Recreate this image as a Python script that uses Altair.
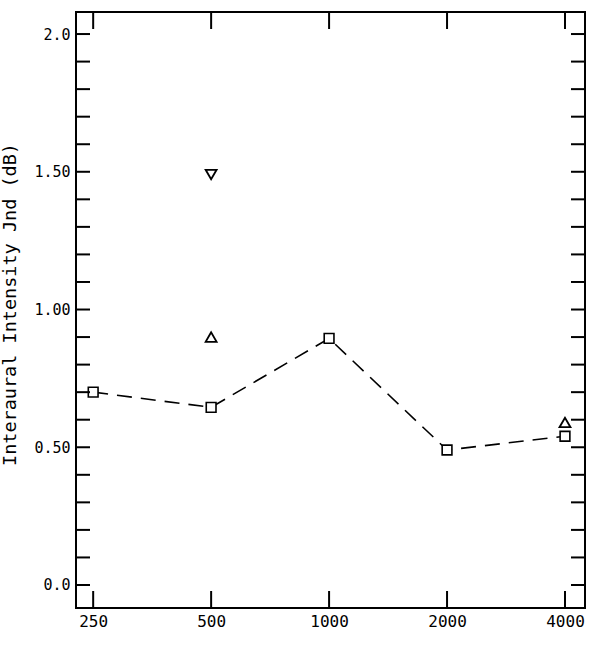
import altair as alt
import pandas as pd

# Data
freqs = [250, 500, 1000, 2000, 4000]
jnd_square = [0.70, 0.645, 0.895, 0.49, 0.54]
tri_up_freq = [500, 4000]
tri_up_val = [0.90, 0.59]
tri_down_freq = [500]
tri_down_val = [1.49]

y_label_values = [0.0, 0.5, 1.0, 1.5, 2.0]
y_tick_values = [0.0, 0.1, 0.2, 0.3, 0.4, 0.5, 0.6, 0.7, 0.8, 0.9, 1.0,
                 1.1, 1.2, 1.3, 1.4, 1.5, 1.6, 1.7, 1.8, 1.9, 2.0]
x_tick_values = [250, 500, 1000, 2000, 4000]

W, H = 509, 596
FONT = "DejaVu Sans Mono"

sq = pd.DataFrame({"freq": freqs, "val": jnd_square})
tri = pd.DataFrame({
    "freq": tri_up_freq + tri_down_freq,
    "val": tri_up_val + tri_down_val,
    "kind": ["up"] * len(tri_up_freq) + ["down"] * len(tri_down_freq),
})
yt = pd.DataFrame({"val": y_tick_values})
xt = pd.DataFrame({"freq": x_tick_values})

xscale = alt.Scale(type="log", base=2, domain=[226, 4499], nice=False)
yscale = alt.Scale(domain=[-0.0835, 2.08], nice=False, zero=False)

xaxis = alt.Axis(values=x_tick_values, ticks=False, tickSize=0, tickColor="white",
                 domain=False, grid=False, labelFont=FONT, labelFontSize=16,
                 labelColor="black", labelPadding=5, title=None, format="d")
yaxis = alt.Axis(values=y_label_values, ticks=False, tickSize=0, tickColor="white",
                 domain=False, grid=False, labelFont=FONT, labelFontSize=15,
                 labelColor="black", labelPadding=6,
                 labelExpr="datum.value == 0 ? '0.0' : (datum.value == 2 ? '2.0' : format(datum.value, '.2f'))",
                 title="Interaural Intensity Jnd (dB)", titleFont=FONT,
                 titleFontSize=18.5, titleFontWeight="normal", titleColor="black",
                 titleX=-61, titleY=H / 2 - 6, titleBaseline="alphabetic")

X = alt.X("freq:Q", scale=xscale, axis=xaxis, title=None)
Y = alt.Y("val:Q", scale=yscale, axis=yaxis, title="Interaural Intensity Jnd (dB)")

line = alt.Chart(sq).mark_line(color="black", strokeWidth=1.6,
                               strokeDash=[15, 9]).encode(x=X, y=Y)

squares = alt.Chart(sq).mark_point(shape="square", size=95, filled=False,
                                   fill="white", fillOpacity=1,
                                   stroke="black", strokeWidth=1.6,
                                   opacity=1).encode(x=X, y=Y)

tris = alt.Chart(tri).mark_point(size=120, filled=False, stroke="black",
                                 strokeWidth=1.8, opacity=1).encode(
    x=X, y=Y,
    shape=alt.Shape("kind:N", scale=alt.Scale(domain=["up", "down"],
                                               range=["triangle-up", "triangle-down"]),
                    legend=None),
)

yt_left = alt.Chart(yt).mark_rule(color="black", strokeWidth=2).encode(
    y=Y, x=alt.value(0), x2=alt.value(14))
yt_right = alt.Chart(yt).mark_rule(color="black", strokeWidth=2).encode(
    y=Y, x=alt.value(W - 14), x2=alt.value(W))
xt_bottom = alt.Chart(xt).mark_rule(color="black", strokeWidth=2).encode(
    x=X, y=alt.value(H - 17), y2=alt.value(H))
xt_top = alt.Chart(xt).mark_rule(color="black", strokeWidth=2).encode(
    x=X, y=alt.value(0), y2=alt.value(17))

chart = alt.layer(line, squares, tris, yt_left, yt_right, xt_bottom, xt_top).properties(
    width=W, height=H,
    autosize=alt.AutoSizeParams(type="none"),
    padding={"left": 76, "top": 12, "right": 4, "bottom": 52},
    background="white",
).configure_view(stroke="black", strokeWidth=2).configure_axis(
    ticks=False, tickColor="white", tickSize=0)

chart.save("out.html", embed_options={"renderer": "svg", "actions": False})
